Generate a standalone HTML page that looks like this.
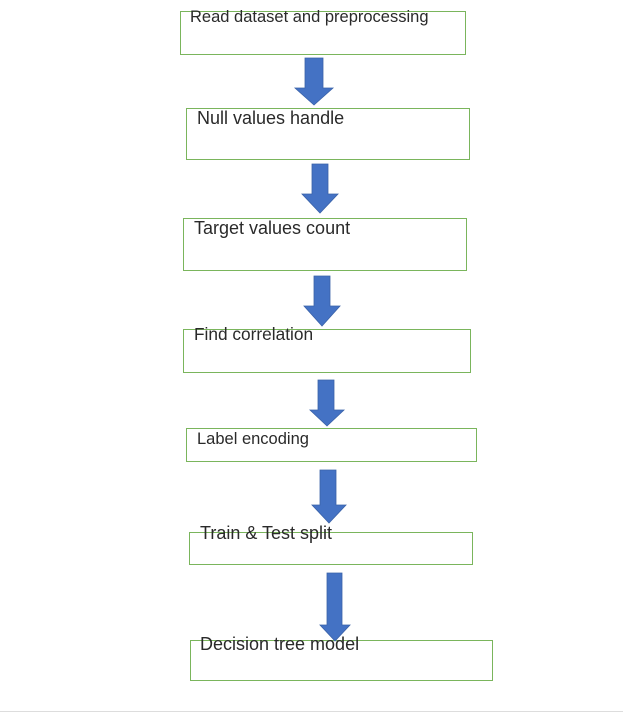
<!DOCTYPE html>
<html><head><style>
body{margin:0;width:623px;height:721px;background:#fff;position:relative;overflow:hidden;font-family:"Liberation Sans",Arial,sans-serif}
.b{position:absolute;border:1.5px solid #7ab55c;box-sizing:border-box}
.t{position:absolute;font-size:16px;color:#2a2a2a;white-space:nowrap;line-height:16px}
</style></head><body>
<div class="b" style="left:180px;top:11px;width:286px;height:44px"></div>
<div class="t" style="left:190px;top:9px;font-size:16.5px">Read dataset and preprocessing</div>
<div class="b" style="left:186px;top:108px;width:284px;height:52px"></div>
<div class="t" style="left:197px;top:110px;font-size:18px">Null values handle</div>
<div class="b" style="left:183px;top:218px;width:284px;height:53px"></div>
<div class="t" style="left:194px;top:220px;font-size:18px">Target values count</div>
<div class="b" style="left:183px;top:329px;width:288px;height:44px"></div>
<div class="t" style="left:194px;top:326px;font-size:17.3px">Find correlation</div>
<div class="b" style="left:186px;top:428px;width:291px;height:34px"></div>
<div class="t" style="left:197px;top:431px;font-size:16.5px">Label encoding</div>
<div class="b" style="left:189px;top:532px;width:284px;height:33px"></div>
<div class="t" style="left:200px;top:525px;font-size:18px">Train &amp; Test split</div>
<div class="b" style="left:190px;top:640px;width:303px;height:41px"></div>
<div class="t" style="left:200px;top:636px;font-size:18px">Decision tree model</div>
<div style="position:absolute;left:0;top:711px;width:623px;height:1px;background:#ddd"></div>
<svg width="623" height="721" style="position:absolute;left:0;top:0" fill="#4472c4" stroke="#3a62a8" stroke-width="0.8">
<polygon points="305,58 323,58 323,88 333,88 314,105 295,88 305,88"/>
<polygon points="312,164 328,164 328,194 338,194 320,213 302,194 312,194"/>
<polygon points="314,276 330,276 330,306 340,306 322,326 304,306 314,306"/>
<polygon points="318,380 334,380 334,410 344,410 327,426 310,410 318,410"/>
<polygon points="320,470 336,470 336,505 346,505 329,523 312,505 320,505"/>
<polygon points="327,573 342,573 342,625 350,625 335,641 320,625 327,625"/>
</svg>
</body></html>
